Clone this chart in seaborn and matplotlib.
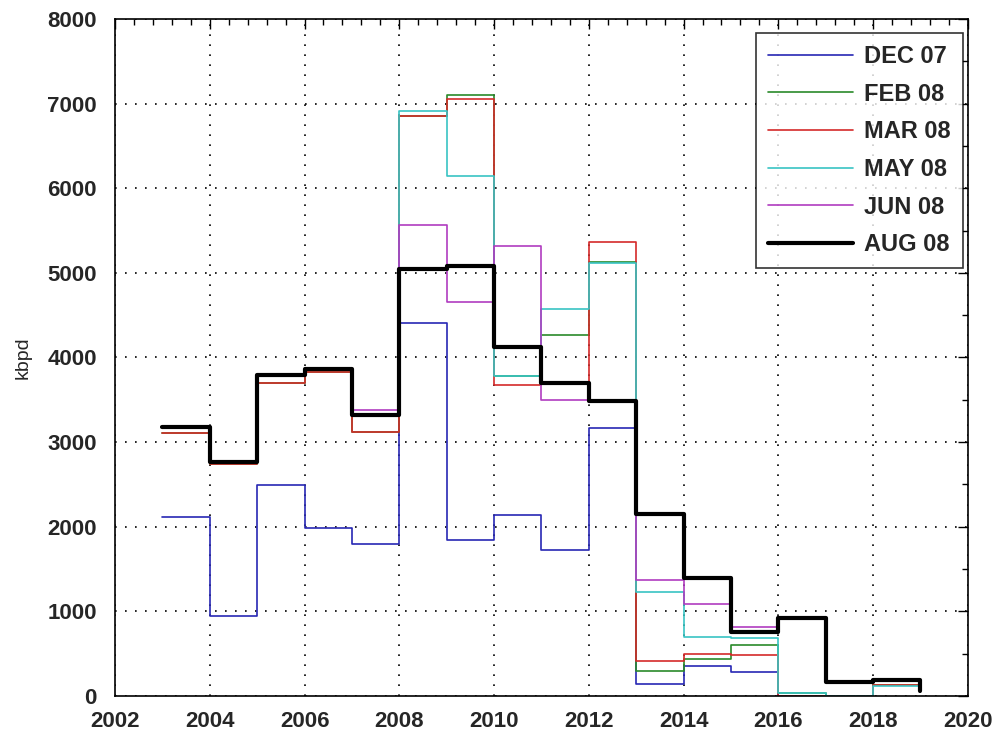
import pandas as pd
import seaborn as sns
import matplotlib.pyplot as plt
from matplotlib.ticker import MultipleLocator

# yearly step values, each step starts at the given year
years = list(range(2003, 2020))

dec07 = [2120, 950, 2490, 1980, 1800, 4410, 1840, 2140, 1730, 3170, 140, 350, 280, 0]
feb08 = [3110, 2740, 3700, 3830, 3120, 6850, 7100, 3780, 4270, 5130, 300, 440, 600, 40, 0, 130, 130]
mar08 = [3110, 2740, 3700, 3830, 3120, 6850, 7050, 3670, 3700, 5360, 410, 500, 490, 0, 0, 130, 130]
may08 = [3180, 2760, 3790, 3860, 3320, 6910, 6140, 3780, 4570, 5120, 1230, 700, 680, 40, 0, 120, 120]
jun08 = [3180, 2760, 3790, 3860, 3380, 5560, 4650, 5320, 3500, 3490, 1370, 1090, 810, 920, 170, 190, 190]
aug08 = [3180, 2760, 3790, 3860, 3320, 5050, 5080, 4120, 3700, 3490, 2150, 1400, 760, 920, 170, 190, 60]

series = [
    ("DEC 07", dec07, "#2828b4", 1.2),
    ("FEB 08", feb08, "#2a8a2a", 1.2),
    ("MAR 08", mar08, "#d42a2a", 1.2),
    ("MAY 08", may08, "#38c4c4", 1.2),
    ("JUN 08", jun08, "#b03cc0", 1.2),
    ("AUG 08", aug08, "#000000", 3.0),
]

sns.set_style("white")
plt.rcParams['font.family'] = ['Liberation Sans', 'DejaVu Sans']

fig = plt.figure(figsize=(10.01, 7.33), dpi=100)
ax = fig.add_axes([0.1149, 0.0505, 0.852, 0.9236])

for name, vals, color, lw in series:
    df = pd.DataFrame({"year": years[:len(vals)], "kbpd": vals})
    sns.lineplot(data=df, x="year", y="kbpd", ax=ax, color=color, linewidth=lw,
                 drawstyle="steps-post", label=name, estimator=None, sort=False)

ax.set_xlim(2002, 2020)
ax.set_ylim(0, 8000)
ax.xaxis.set_major_locator(MultipleLocator(2))
ax.xaxis.set_minor_locator(MultipleLocator(0.4))
ax.yaxis.set_major_locator(MultipleLocator(1000))
ax.yaxis.set_minor_locator(MultipleLocator(500))
ax.tick_params(which="both", direction="in", top=True, right=True, color="black")
ax.tick_params(which="major", length=7, width=1, labelsize=16)
ax.tick_params(which="minor", length=4, width=1)
ax.tick_params(axis="y", which="major", pad=13)
ax.tick_params(axis="x", which="major", pad=11)
for lbl in ax.get_xticklabels() + ax.get_yticklabels():
    lbl.set_fontweight("bold")
ax.grid(True, which="major", linestyle=(0, (1, 5)), color="black", linewidth=1.2)
for sp in ax.spines.values():
    sp.set_color("black")
    sp.set_linewidth(1.2)

ax.set_xlabel("")
ax.set_ylabel("kbpd", fontsize=14, labelpad=11)

leg = ax.legend(loc="upper right", bbox_to_anchor=(0.994, 0.979),
                prop={"weight": "bold", "size": 17},
                frameon=True, fancybox=False, handlelength=3.6, labelspacing=0.62,
                borderpad=0.5, handletextpad=0.5, borderaxespad=0.0)
leg.get_frame().set_edgecolor("black")
leg.get_frame().set_linewidth(1.2)
for h in leg.get_lines()[:-1]:
    h.set_linewidth(1.2)

fig.savefig("out.png", dpi=100)
